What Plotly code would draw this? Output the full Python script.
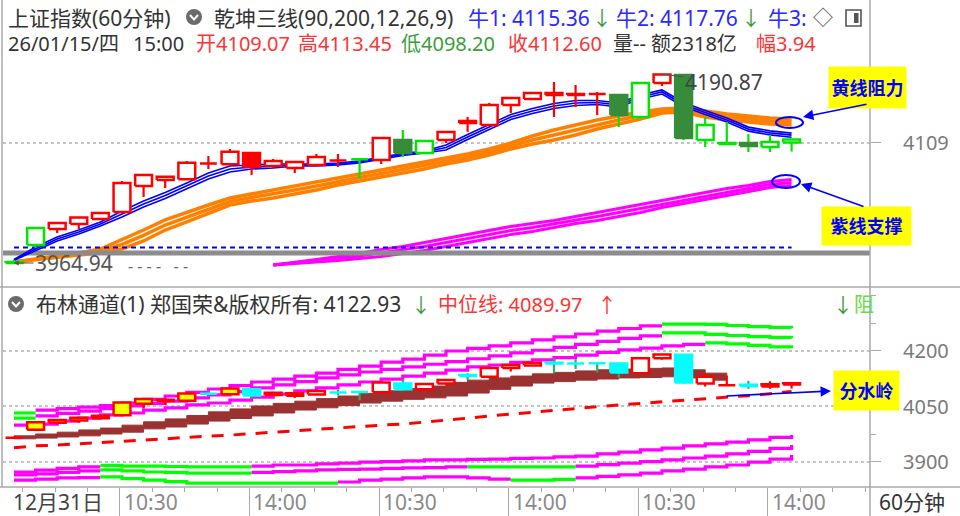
import plotly.graph_objects as go

# ---------------- data ----------------
bar_index = list(range(37))
open_ = [3965.0, 3986.5, 4005.6, 4011.6, 4017.6, 4025.9, 4057.0, 4064.2, 4065.0, 4084.5, 4082.9, 4096.4, 4080.9,
         4078.5, 4082.1, 4088.1, 4089.3, 4088.1, 4112.0, 4096.4, 4112.0, 4134.7, 4129.9, 4153.8, 4161.0, 4168.2,
         4167.0, 4167.6, 4165.8, 4139.5, 4180.1, 4189.7, 4112.0, 4107.2, 4108.4, 4103.6, 4109.07]
high_ = [3968.6, 4007.5, 4014.0, 4020.0, 4025.9, 4063.0, 4071.4, 4068.8, 4086.9, 4092.9, 4101.2, 4097.6, 4089.3,
         4086.9, 4095.3, 4095.3, 4090.5, 4115.6, 4123.9, 4112.0, 4122.7, 4139.5, 4156.2, 4163.4, 4169.4, 4181.3,
         4177.7, 4169.4, 4166.4, 4181.3, 4190.87, 4190.0, 4139.5, 4133.5, 4119.2, 4118.0, 4113.45]
low_ = [3964.94, 3982.9, 4000.8, 4005.6, 4016.4, 4025.9, 4043.9, 4054.6, 4064.2, 4077.3, 4082.1, 4070.2, 4078.5,
        4072.5, 4080.9, 4079.7, 4066.6, 4083.3, 4091.7, 4095.3, 4108.4, 4121.6, 4128.7, 4144.3, 4159.8, 4139.5,
        4151.4, 4141.9, 4127.5, 4139.5, 4176.5, 4112.0, 4103.6, 4106.0, 4097.6, 4097.6, 4098.20]
close_ = [3966.2, 4006.8, 4012.8, 4019.4, 4024.7, 4060.6, 4070.2, 4068.1, 4084.9, 4083.9, 4098.0, 4079.7, 4086.9,
          4085.7, 4091.7, 4087.5, 4088.9, 4114.4, 4096.4, 4110.8, 4121.6, 4132.3, 4153.8, 4162.2, 4168.2, 4165.8,
          4165.8, 4167.0, 4141.9, 4180.1, 4190.3, 4114.4, 4129.9, 4108.4, 4104.8, 4109.6, 4112.60]
# indicator state of each bar in the main panel (r = red, g = green, d = dark green)
main_state = ['g', 'g', 'r', 'r', 'r', 'r', 'r', 'r', 'r', 'r', 'r', 'r', 'r', 'r', 'r', 'r', 'g', 'r', 'd', 'g',
              'r', 'r', 'r', 'r', 'r', 'r', 'r', 'r', 'd', 'g', 'r', 'd', 'g', 'g', 'd', 'g', 'g']
# bars highlighted (yellow) in the Bollinger panel
boll_highlight = [0, 1, 1, 1, 1, 1, 1, 1, 1, 0, 1, 0, 0, 0, 0, 0, 0, 0, 0, 0, 0, 0, 0, 0, 0, 0, 0, 0, 0, 0, 0, 0,
                  0, 0, 0, 0, 0]

# 乾坤三线: blue (牛1, 牛2, 牛3)
niu1 = [3968.1, 3979.3, 3991.3, 3999.6, 4009.2, 4019.9, 4031.9, 4042.0, 4053.4, 4065.4, 4073.7, 4077.3, 4078.5,
        4080.9, 4080.9, 4082.1, 4084.5, 4089.3, 4093.5, 4096.4, 4100.0, 4112.6, 4124.5, 4136.5, 4143.7, 4149.6,
        4153.2, 4154.4, 4151.4, 4161.0, 4167.0, 4152.0, 4142.5, 4133.5, 4122.6, 4118.1, 4115.36]
niu2 = [3968.6, 3981.7, 3993.7, 4002.0, 4011.6, 4023.5, 4035.5, 4045.6, 4057.0, 4069.0, 4077.3, 4079.7, 4080.9,
        4082.1, 4082.1, 4083.3, 4085.7, 4090.5, 4094.7, 4097.6, 4103.0, 4115.6, 4127.5, 4139.5, 4146.7, 4152.6,
        4156.2, 4156.8, 4153.8, 4163.4, 4169.4, 4154.4, 4144.9, 4135.9, 4125.0, 4120.5, 4117.76]
niu3 = [3969.1, 3984.1, 3996.1, 4004.4, 4014.0, 4027.1, 4039.1, 4049.2, 4060.6, 4072.6, 4080.9, 4082.1, 4083.3,
        4083.3, 4083.3, 4084.5, 4086.9, 4091.7, 4095.9, 4098.8, 4106.0, 4118.6, 4130.5, 4142.5, 4149.7, 4155.6,
        4159.2, 4159.2, 4156.2, 4165.8, 4171.8, 4156.8, 4147.3, 4138.3, 4127.4, 4122.9, 4120.2]
# orange (yellow-line resistance) band
orange_hi = [3966.2, 3969.8, 3973.3, 3976.9, 3981.7, 3992.5, 4004.4, 4016.4, 4025.9, 4034.3, 4042.7, 4047.4, 4052.2,
             4057.0, 4061.8, 4066.6, 4071.3, 4076.1, 4080.9, 4085.7, 4090.5, 4095.3, 4101.2, 4108.4, 4116.8, 4123.9,
             4129.9, 4135.9, 4140.7, 4145.5, 4149.0, 4150.2, 4146.7, 4143.1, 4140.7, 4138.3, 4137.1]
orange_mid = [3966.2, 3969.5, 3972.7, 3975.7, 3979.3, 3987.1, 3997.9, 4010.4, 4020.0, 4029.5, 4038.5, 4043.3, 4047.5,
              4052.2, 4057.0, 4062.4, 4067.2, 4072.0, 4076.7, 4081.5, 4086.9, 4091.7, 4097.7, 4104.8, 4112.0, 4118.0,
              4124.0, 4130.5, 4135.9, 4141.3, 4146.7, 4147.9, 4143.1, 4139.5, 4137.1, 4134.7, 4133.5]
orange_lo = [3966.2, 3969.2, 3972.1, 3974.5, 3976.9, 3981.7, 3991.3, 4004.4, 4014.0, 4024.7, 4034.3, 4039.1, 4042.7,
             4047.4, 4052.2, 4058.2, 4063.0, 4067.8, 4072.5, 4077.3, 4083.3, 4088.1, 4094.1, 4101.2, 4107.2, 4112.0,
             4118.0, 4125.1, 4131.1, 4137.1, 4144.3, 4145.5, 4139.5, 4135.9, 4133.5, 4131.1, 4129.9]
# magenta (purple-line support) band
N_ = None
mag_hi = [N_] * 12 + [3962.6, 3965.6, 3969.1, 3972.7, 3976.3, 3981.1, 3984.7, 3989.5, 3994.3, 3999.0, 4003.8, 4008.6,
                      4012.2, 4015.8, 4020.5, 4025.3, 4030.1, 4034.9, 4039.7, 4044.5, 4049.2, 4054.0, 4057.6, 4062.4,
                      4064.8]
mag_mid = [N_] * 12 + [3962.6, 3965.0, 3967.4, 3970.4, 3973.3, 3976.9, 3980.5, 3984.7, 3989.5, 3994.3, 3999.1, 4003.8,
                       4007.4, 4011.6, 4016.4, 4020.6, 4025.3, 4030.1, 4035.5, 4040.3, 4045.1, 4049.8, 4054.0, 4058.8,
                       4061.2]
mag_lo = [N_] * 12 + [3962.6, 3964.4, 3965.6, 3968.0, 3970.3, 3972.7, 3976.3, 3979.9, 3984.7, 3989.5, 3994.3, 3999.0,
                      4002.6, 4007.4, 4012.2, 4015.8, 4020.5, 4025.3, 4031.3, 4036.1, 4040.9, 4045.6, 4050.4, 4055.2,
                      4057.6]
gray_level = 3976.9
blue_dot_level = 3983.5
low_mark = 3964.94
high_mark = 4190.87

# 布林通道 panel
boll_up1 = [4032, 4040, 4044, 4048, 4052, 4059, 4069, 4078, 4088, 4097, 4106, 4116, 4124, 4132, 4140, 4150, 4159,
            4170, 4178, 4189, 4200, 4207, 4214, 4222, 4230, 4238, 4246, 4254, 4261, 4268, 4273, 4273, 4272, 4269,
            4266, 4264, 4262]
boll_up2 = [4018, 4024, 4031, 4037, 4044, 4051, 4058, 4064, 4073, 4081, 4090, 4100, 4108, 4117, 4127, 4135, 4143,
            4150, 4157, 4164, 4171, 4179, 4187, 4195, 4202, 4210, 4218, 4226, 4234, 4241, 4249, 4249, 4245, 4242,
            4239, 4237, 4235]
boll_up3 = [3999, 4002, 4010, 4018, 4027, 4032, 4040, 4046, 4054, 4059, 4067, 4075, 4083, 4092, 4100, 4108, 4116,
            4124, 4132, 4140, 4148, 4157, 4162, 4169, 4176, 4182, 4189, 4196, 4203, 4208, 4214, 4218, 4222, 4219,
            4215, 4211, 4208]
boll_dn1 = [3872, 3877, 3882, 3886, 3890, 3888, 3888, 3887, 3886, 3886, 3886, 3888, 3891, 3891, 3894, 3896, 3899,
            3900, 3902, 3905, 3905, 3906, 3907, 3909, 3910, 3913, 3915, 3921, 3926, 3932, 3937, 3943, 3948, 3953,
            3959, 3966, 3972]
boll_dn2 = [3864, 3867, 3871, 3875, 3878, 3875, 3872, 3871, 3869, 3869, 3869, 3871, 3873, 3875, 3878, 3879, 3880,
            3882, 3883, 3884, 3886, 3886, 3886, 3886, 3886, 3886, 3888, 3892, 3896, 3900, 3905, 3910, 3915, 3921,
            3928, 3936, 3945]
boll_dn3 = [3850, 3853, 3856, 3857, 3859, 3854, 3850, 3846, 3842, 3842, 3842, 3842, 3842, 3842, 3842, 3845, 3850,
            3853, 3856, 3859, 3859, 3856, 3853, 3850, 3850, 3852, 3856, 3860, 3864, 3869, 3875, 3880, 3886, 3891,
            3899, 3907, 3918]
G, M = 'G', 'M'
up1_state = [G] + [M] * 29 + [G] * 7
up2_state = [G] + [M] * 29 + [G] * 7
up3_state = [M] * 32 + [G] * 5
dn1_state = [M] * 4 + [G] * 7 + [M] * 26
dn2_state = [M] * 4 + [G] * 7 + [M] * 10 + [G] * 5 + [M] * 11
dn3_state = [M] * 4 + [G] * 11 + [M] * 8 + [G] * 3 + [M] * 11
mid_line = [3938, 3943, 3945, 3948, 3953, 3956, 3959, 3962, 3966, 3968, 3972, 3976, 3980, 3985, 3989, 3991, 3995,
            3999, 4002, 4008, 4013, 4018, 4024, 4029, 4035, 4040, 4046, 4050, 4054, 4058, 4062, 4066, 4070, 4075,
            4079, 4084, 4089.97]
water_top = [3970, 3975, 3980, 3986, 3991, 3999, 4008, 4016, 4025, 4035, 4043, 4051, 4058, 4064, 4071, 4078, 4085,
             4092, 4098, 4105, 4115, 4121, 4127, 4132, 4138, 4142, 4146, 4149, 4151, 4153, 4154, 4149, 4140, 4131,
             N_, N_, N_]
water_bot = [3962, 3964, 3967, 3970, 3975, 3980, 3989, 3994, 4002, 4010, 4017, 4024, 4032, 4040, 4046, 4052, 4059,
             4064, 4069, 4073, 4078, 4086, 4096, 4105, 4113, 4117, 4121, 4124, 4127, 4128, 4130, 4127, 4121, 4121,
             N_, N_, N_]

tick_bars = [4.9, 10.9, 16.9, 22.9, 28.9, 34.9]
tick_texts = ['10:30', '14:00', '10:30', '14:00', '10:30', '14:00']
first_date = '12月31日'

# ---------------- layout helpers ----------------
W, H = 960, 516
FONT = 'Noto Sans, Noto Sans CJK SC, sans-serif'
PX_L, PX_R = 3, 870
X_RANGE = [-0.509, 39.63]
TOP_PX = (0, 287)
LOW_PX = (287, 487)
TOP_RANGE = [3936.28, 4279.33]
LOW_RANGE = [3831.4, 4373.4]


def fx(px):
    return px / W


def fy(py):
    return 1 - py / H


RED = '#ff0000'
GREEN = '#00e600'
DKGREEN = '#368c3a'
CYAN = '#00ffff'
MAGENTA = '#ff00ff'
LIME = '#00ff00'
ORANGE = '#ff8000'
BLUE = '#0000ff'

fig = go.Figure()


def add_line(xs, ys, color, width, ax, dash=None, shape='linear'):
    fig.add_trace(go.Scatter(x=xs, y=ys, mode='lines', xaxis=ax[0], yaxis=ax[1], hoverinfo='skip',
                             line=dict(color=color, width=width, dash=dash, shape=shape)))


def add_steps(values, states, cmap, width, ax):
    n = len(values)
    start = 0
    for i in range(1, n + 1):
        if i == n or states[i] != states[start]:
            xs = list(range(start, i))
            ys = values[start:i]
            if i < n:
                xs = xs + [i]
                ys = ys + [values[i - 1]]
            add_line(xs, ys, cmap[states[start]], width, ax, shape='hv')
            start = i


def body_path(idx, hw=0.39):
    xs, ys = [], []
    for i in idx:
        lo, hi = min(open_[i], close_[i]), max(open_[i], close_[i])
        xs += [i - hw, i + hw, i + hw, i - hw, i - hw, None]
        ys += [lo, lo, hi, hi, lo, None]
    return xs, ys


def wick_path(idx):
    xs, ys = [], []
    for i in idx:
        lo, hi = min(open_[i], close_[i]), max(open_[i], close_[i])
        xs += [i, i, None, i, i, None]
        ys += [low_[i], lo, None, hi, high_[i], None]
    return xs, ys


def add_candles(idx, line_color, fill, wick_color, ax, lw=2.5):
    if not idx:
        return
    wx, wy = wick_path(idx)
    add_line(wx, wy, wick_color, 2.2, ax)
    bx, by = body_path(idx)
    fig.add_trace(go.Scatter(x=bx, y=by, mode='lines', fill='toself', fillcolor=fill, xaxis=ax[0], yaxis=ax[1],
                             hoverinfo='skip', line=dict(color=line_color, width=lw)))


TOP = ('x', 'y')
LOW = ('x2', 'y2')

# ---- main panel ----
for ys in (mag_lo, mag_mid, mag_hi):
    add_line(bar_index, ys, MAGENTA, 3, TOP)
for ys in (orange_lo, orange_mid, orange_hi):
    add_line(bar_index, ys, ORANGE, 3.5, TOP)
add_line([X_RANGE[0], X_RANGE[1]], [gray_level, gray_level], '#8c8c8c', 5, TOP)
add_line([bar_index[0], bar_index[-1]], [blue_dot_level, blue_dot_level], BLUE, 2, TOP, dash='5px,4px')
for ys in (niu1, niu2, niu3):
    add_line(bar_index, ys, BLUE, 1.6, TOP)

up = [i for i in bar_index if close_[i] >= open_[i]]
dn = [i for i in bar_index if close_[i] < open_[i]]
add_candles([i for i in up if main_state[i] == 'r'], RED, 'white', RED, TOP)
add_candles([i for i in dn if main_state[i] == 'r'], RED, RED, RED, TOP)
add_candles([i for i in up if main_state[i] == 'g'], GREEN, 'white', GREEN, TOP)
add_candles([i for i in dn if main_state[i] == 'g'], GREEN, GREEN, GREEN, TOP)
add_candles([i for i in bar_index if main_state[i] == 'd'], DKGREEN, DKGREEN, GREEN, TOP)

# ---- Bollinger panel ----
cmap = {'G': LIME, 'M': MAGENTA}
for vals, st in ((boll_up1, up1_state), (boll_up2, up2_state), (boll_up3, up3_state),
                 (boll_dn1, dn1_state), (boll_dn2, dn2_state), (boll_dn3, dn3_state)):
    add_steps(vals, st, cmap, 3.2, LOW)
fig.add_trace(go.Scatter(x=bar_index, y=water_bot, mode='lines', xaxis='x2', yaxis='y2', hoverinfo='skip',
                         line=dict(color='#9a3232', width=1, shape='hv')))
fig.add_trace(go.Scatter(x=bar_index, y=water_top, mode='lines', xaxis='x2', yaxis='y2', hoverinfo='skip',
                         fill='tonexty', fillcolor='#9a3232', line=dict(color='#9a3232', width=1, shape='hv')))
add_line(bar_index, mid_line, RED, 3, LOW, dash='12px,10px')
add_candles([i for i in up if boll_highlight[i]], RED, '#ffff00', RED, LOW)
add_candles([i for i in up if not boll_highlight[i]], RED, 'white', RED, LOW)
add_candles(dn, CYAN, CYAN, '#2faa6a', LOW)

# ---------------- axes ----------------
GRID = '#c4c4c4'
AX = '#a8a8a8'
fig.update_layout(
    width=W, height=H, margin=dict(l=0, r=0, t=0, b=0), paper_bgcolor='white', plot_bgcolor='white',
    showlegend=False, font=dict(family=FONT),
    xaxis=dict(domain=[fx(PX_L), fx(PX_R)], range=X_RANGE, anchor='y', visible=False, fixedrange=True),
    xaxis2=dict(domain=[fx(PX_L), fx(PX_R)], range=X_RANGE, anchor='y2', matches='x', showgrid=False,
                zeroline=False, showticklabels=False, ticks='outside', tickmode='array', tickvals=tick_bars,
                ticklen=29, tickcolor=AX, tickwidth=1,
                minor=dict(ticks='outside', tickmode='linear', tick0=4.9, dtick=1.5, ticklen=4, tickcolor=AX)),
    yaxis=dict(domain=[fy(TOP_PX[1]), fy(TOP_PX[0])], range=TOP_RANGE, anchor='x', side='right',
               tickmode='array', tickvals=[4109], showticklabels=False, ticks='outside', ticklen=10,
               tickcolor=AX, showgrid=True, gridcolor=GRID, griddash='dot', gridwidth=1.5, zeroline=False),
    yaxis2=dict(domain=[fy(LOW_PX[1]), fy(LOW_PX[0])], range=LOW_RANGE, anchor='x2', side='right',
                tickmode='array', tickvals=[3900, 4050, 4200], showticklabels=False, ticks='outside', ticklen=10,
                tickcolor=AX, showgrid=True, gridcolor=GRID, griddash='dot', gridwidth=1.5, zeroline=False,
                minor=dict(ticks='outside', tickmode='linear', tick0=3900, dtick=75, ticklen=5, tickcolor=AX)),
)

shapes = []


def hline(py, x0=0, x1=W, color=AX, w=1.5):
    shapes.append(dict(type='line', xref='paper', yref='paper', x0=fx(x0), x1=fx(x1), y0=fy(py), y1=fy(py),
                       line=dict(color=color, width=w)))


def vline(px, y0=0, y1=H, color=AX, w=1.5):
    shapes.append(dict(type='line', xref='paper', yref='paper', x0=fx(px), x1=fx(px), y0=fy(y0), y1=fy(y1),
                       line=dict(color=color, width=w)))


hline(TOP_PX[1])
hline(LOW_PX[1])
vline(PX_R)
vline(2, 0, LOW_PX[1])


def ellipse(x0, y0, x1, y1, color=BLUE, w=2):
    shapes.append(dict(type='circle', xref='paper', yref='paper', x0=fx(x0), x1=fx(x1), y0=fy(y1), y1=fy(y0),
                       line=dict(color=color, width=w)))


def icon(cx, cy):
    shapes.append(dict(type='circle', xref='paper', yref='paper', x0=fx(cx - 8), x1=fx(cx + 8), y0=fy(cy + 8),
                       y1=fy(cy - 8), fillcolor='#6b6b6b', line=dict(width=0)))
    shapes.append(dict(type='path', xref='paper', yref='paper',
                       path='M %f %f L %f %f L %f %f' % (fx(cx - 4), fy(cy - 2), fx(cx), fy(cy + 2.5), fx(cx + 4),
                                                         fy(cy - 2)),
                       line=dict(color='white', width=2)))


icon(194, 17)
icon(16, 304)
ellipse(776, 117, 803, 128)
ellipse(772, 175, 800, 188)
# panel icon (top-right)
shapes.append(dict(type='rect', xref='paper', yref='paper', x0=fx(846), x1=fx(861), y0=fy(26), y1=fy(10),
                   line=dict(color='#555', width=1.6)))
shapes.append(dict(type='rect', xref='paper', yref='paper', x0=fx(854), x1=fx(858.5), y0=fy(23), y1=fy(13),
                   fillcolor='#555', line=dict(width=0)))
fig.update_layout(shapes=shapes)

ann = []


def txt(px, py, text, color='#333333', size=19, anchor='left'):
    ann.append(dict(xref='paper', yref='paper', x=fx(px), y=fy(py), text=text, showarrow=False,
                    xanchor=anchor, yanchor='middle', font=dict(color=color, size=size, family=FONT)))


BLUE_T = '#2a2aff'
RED_T = '#ff3333'
GREEN_T = '#3a9e3a'
# header row 1
txt(6, 18, '上证指数(60分钟)', size=21)
txt(212, 18, '乾坤三线(90,200,12,26,9)', size=21)
txt(466, 18, '牛1: 4115.36', BLUE_T, 21)
txt(590, 19, '↓', GREEN_T, 20)
txt(614, 18, '牛2: 4117.76', BLUE_T, 21)
txt(739, 19, '↓', GREEN_T, 20)
txt(766, 18, '牛3:', BLUE_T, 21)
txt(811, 18, '◇', '#555555', 20)
# header row 2
txt(6, 43, '26/01/15/四', size=20)
txt(131, 43, '15:00', size=20)
txt(194, 43, '开4109.07', RED_T, 20)
txt(296, 43, '高4113.45', RED_T, 20)
txt(399, 43, '低4098.20', GREEN_T, 20)
txt(506, 43, '收4112.60', RED_T, 20)
txt(611, 43, '量-- 额2318亿', size=20)
txt(754, 43, '幅3.94', RED_T, 20)
# Bollinger title
txt(34, 304, '布林通道(1) 郑国荣&版权所有: 4122.93', size=21)
txt(409, 305, '↓', GREEN_T, 20)
txt(436, 304, '中位线: 4089.97', RED_T, 20)
txt(595, 305, '↑', RED_T, 20)
txt(831, 305, '↓', GREEN_T, 20)
txt(852, 304, '阻', '#66dd44', 20)
# x axis labels
txt(11, 502, first_date, '#444444', 21)
for b, t in zip(tick_bars, tick_texts):
    ann.append(dict(xref='x2', yref='paper', x=b, y=fy(502), text=t, showarrow=False, xanchor='left',
                    yanchor='middle', xshift=2, font=dict(color='#8a8a8a', size=21, family=FONT)))
txt(912, 502, '60分钟', '#333333', 21, 'center')
# right axis labels
ann.append(dict(xref='paper', yref='y', x=fx(926), y=4109, text='4109', showarrow=False, xanchor='center',
                yanchor='middle', font=dict(color='#7a7a7a', size=20, family=FONT)))
for v in (4200, 4050, 3900):
    ann.append(dict(xref='paper', yref='y2', x=fx(926), y=v, text=str(v), showarrow=False, xanchor='center',
                    yanchor='middle', font=dict(color='#7a7a7a', size=20, family=FONT)))
# high / low marks
ann.append(dict(xref='x', yref='y', x=30, y=high_mark, text='%.2f' % high_mark, showarrow=True, arrowhead=0,
                arrowwidth=1.2, arrowcolor='#555555', ax=62, ay=8, font=dict(color='#444444', size=21, family=FONT)))
ann.append(dict(xref='x', yref='y', x=0, y=low_mark, text='%.2f' % low_mark, showarrow=True, arrowhead=2,
                arrowsize=0.8, arrowwidth=1.2, arrowcolor='#555555', ax=60, ay=0,
                font=dict(color='#555555', size=21, family=FONT)))
txt(126, 266, '- - - -   - -', '#666666', 16)


# callouts
def callout(cx, cy, w, h, text):
    ann.append(dict(xref='paper', yref='paper', x=fx(cx), y=fy(cy), text='<b>%s</b>' % text, showarrow=False,
                    xanchor='center', yanchor='middle', bgcolor='#ffff00', width=w, height=h, borderpad=0,
                    font=dict(color=BLUE, size=18, family=FONT)))


def arrow(hx, hy, tx, ty):
    ann.append(dict(xref='paper', yref='paper', x=fx(hx), y=fy(hy), text='', showarrow=True, arrowhead=2,
                    arrowsize=1.3, arrowwidth=1.6, arrowcolor=BLUE, ax=tx - hx, ay=ty - hy))


callout(867, 88, 77, 41, '黄线阻力')
callout(866, 226, 89, 38, '紫线支撑')
callout(866, 390, 65, 39, '分水岭')
arrow(803, 117, 868, 104)
arrow(801, 184, 865, 207)
arrow(831, 391, 725, 396)
fig.update_layout(annotations=ann)

fig.write_html('out.html', config={'displayModeBar': False},
               post_script="document.body.style.margin='0';document.body.style.overflow='hidden';")
